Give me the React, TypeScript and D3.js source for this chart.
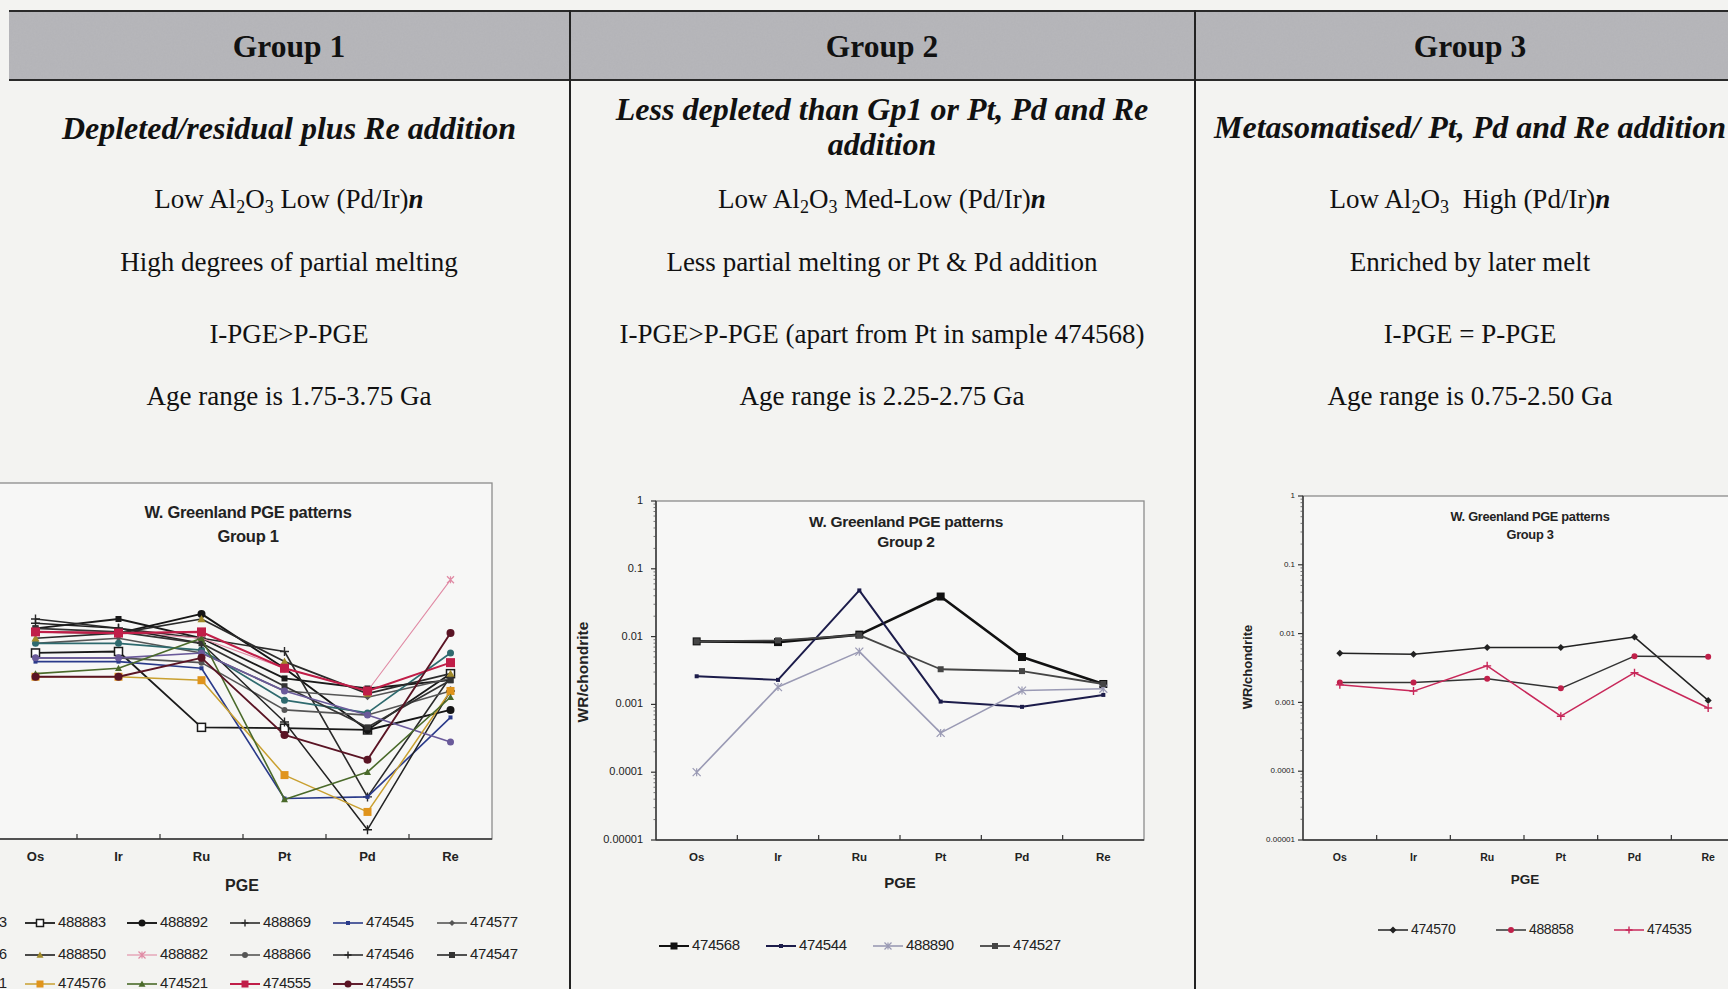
import React from "react";
import * as d3 from "d3";

// ---------- shared axis data ----------
const categories = ["Os", "Ir", "Ru", "Pt", "Pd", "Re"];
const yTickValues = [1, 0.1, 0.01, 0.001, 0.0001, 0.00001];
const yTickLabels = ["1", "0.1", "0.01", "0.001", "0.0001", "0.00001"];

// ---------- Group 1 series (WR/chondrite, order Os Ir Ru Pt Pd Re) ----------
const g1_cut3 = [0.0091, 0.0123, 0.0066, 0.0018, 0.0013, 0.0017];
const g1_488883 = [0.0041, 0.0043, 0.00037, 0.00036, 0.00034, 0.0021];
const g1_488892 = [0.0081, 0.0078, 0.0145, 0.0025, 0.00034, 0.00065];
const g1_488869 = [0.0123, 0.0091, 0.0066, 0.0043, 0.000039, 0.0019];
const g1_474545 = [0.0031, 0.0031, 0.0025, 0.000037, 0.000039, 0.00051];
const g1_474577 = [0.0056, 0.0066, 0.0041, 0.0012, 0.00098, 0.0018];
const g1_cut6 = [0.0056, 0.0056, 0.0045, 0.00089, 0.00059, 0.0041];
const g1_488850 = [0.0066, 0.0078, 0.0123, 0.0031, 0.0011, 0.0021];
const g1_488882 = [0.0081, 0.0081, 0.0066, 0.0025, 0.0012, 0.0437];
const g1_488866 = [0.0035, 0.0035, 0.003, 0.00065, 0.00055, 0.0012];
const g1_474546 = [0.0107, 0.0091, 0.0056, 0.00044, 0.0000135, 0.0012];
const g1_474547 = [0.0091, 0.0081, 0.0056, 0.0014, 0.00037, 0.0017];
const g1_cut1 = [0.0035, 0.0035, 0.0041, 0.0012, 0.00055, 0.00023];
const g1_474576 = [0.0019, 0.0019, 0.0017, 0.000079, 0.000024, 0.0012];
const g1_474521 = [0.0021, 0.0025, 0.0066, 0.000036, 0.000087, 0.00098];
const g1_474555 = [0.0081, 0.0078, 0.0081, 0.0025, 0.0012, 0.003];
const g1_474557 = [0.0019, 0.0019, 0.0035, 0.00029, 0.00013, 0.0078];

// ---------- Group 2 series ----------
const g2_474568 = [0.0085, 0.0083, 0.0107, 0.039, 0.005, 0.002];
const g2_474544 = [0.0026, 0.0023, 0.048, 0.0011, 0.00092, 0.00138];
const g2_488890 = [0.0001, 0.0018, 0.006, 0.00038, 0.0016, 0.0017];
const g2_474527 = [0.0085, 0.0088, 0.0105, 0.0033, 0.0031, 0.002];

// ---------- Group 3 series ----------
const g3_474570 = [0.0052, 0.005, 0.0063, 0.0063, 0.0089, 0.00107];
const g3_488858 = [0.00195, 0.00195, 0.0022, 0.0016, 0.0047, 0.0046];
const g3_474535 = [0.0018, 0.00146, 0.0034, 0.00063, 0.0027, 0.00083];

type Series = {
  name: string;
  values: number[];
  color: string;
  markerColor?: string;
  marker: string;
  width: number;
  size: number;
};

const group1: Series[] = [
  { name: "3", values: g1_cut3, color: "#1a1a1a", marker: "square", width: 1.8, size: 6 },
  { name: "488883", values: g1_488883, color: "#1a1a1a", marker: "squareOpen", width: 1.8, size: 8 },
  { name: "488892", values: g1_488892, color: "#151515", marker: "circle", width: 1.9, size: 8 },
  { name: "488869", values: g1_488869, color: "#2a2a2a", marker: "plus", width: 1.6, size: 9 },
  { name: "474545", values: g1_474545, color: "#2a3a8a", marker: "square", width: 1.6, size: 4 },
  { name: "474577", values: g1_474577, color: "#555", marker: "diamond", width: 1.6, size: 6 },
  { name: "6", values: g1_cut6, color: "#2e6a6e", marker: "circle", width: 1.7, size: 7 },
  { name: "488850", values: g1_488850, color: "#2a2a2a", markerColor: "#a08a2a", marker: "triangle", width: 1.7, size: 8 },
  { name: "488882", values: g1_488882, color: "#e08aa4", marker: "star", width: 1.1, size: 7 },
  { name: "488866", values: g1_488866, color: "#555", marker: "circle", width: 1.6, size: 6 },
  { name: "474546", values: g1_474546, color: "#222", marker: "plus", width: 1.5, size: 9 },
  { name: "474547", values: g1_474547, color: "#333", marker: "square", width: 1.7, size: 6 },
  { name: "1", values: g1_cut1, color: "#6a5a9a", marker: "circle", width: 1.6, size: 7 },
  { name: "474576", values: g1_474576, color: "#c9a030", markerColor: "#e0941c", marker: "square", width: 1.5, size: 8 },
  { name: "474521", values: g1_474521, color: "#4a6a2a", marker: "triangle", width: 1.6, size: 7 },
  { name: "474555", values: g1_474555, color: "#c01e48", marker: "square", width: 2.1, size: 9 },
  { name: "474557", values: g1_474557, color: "#5a1424", marker: "circle", width: 1.9, size: 8 },
];

const group2: Series[] = [
  { name: "474568", values: g2_474568, color: "#111", marker: "square", width: 2.6, size: 8 },
  { name: "474544", values: g2_474544, color: "#1c1c4a", marker: "square", width: 2, size: 4 },
  { name: "488890", values: g2_488890, color: "#9a9ab4", marker: "star", width: 1.6, size: 8 },
  { name: "474527", values: g2_474527, color: "#454545", marker: "square", width: 1.8, size: 6 },
];

const group3: Series[] = [
  { name: "474570", values: g3_474570, color: "#222", marker: "diamond", width: 1.5, size: 7 },
  { name: "488858", values: g3_488858, color: "#333", markerColor: "#c0204a", marker: "circle", width: 1.5, size: 6 },
  { name: "474535", values: g3_474535, color: "#c8285a", marker: "plus", width: 1.5, size: 8 },
];

const SANS = "Arial, 'Liberation Sans', sans-serif";
const SERIF = "'Liberation Serif', 'Times New Roman', serif";

function Marker({ type, x, y, size, color }: { type: string; x: number; y: number; size: number; color: string }) {
  const h = size / 2;
  switch (type) {
    case "square":
      return <rect x={x - h} y={y - h} width={size} height={size} fill={color} />;
    case "squareOpen":
      return <rect x={x - h} y={y - h} width={size} height={size} fill="#fff" stroke={color} strokeWidth={1.5} />;
    case "circle":
      return <circle cx={x} cy={y} r={h} fill={color} />;
    case "diamond":
      return <polygon points={`${x},${y - h} ${x + h},${y} ${x},${y + h} ${x - h},${y}`} fill={color} />;
    case "triangle":
      return <polygon points={`${x},${y - h} ${x + h},${y + h * 0.8} ${x - h},${y + h * 0.8}`} fill={color} />;
    case "plus":
      return <path d={`M${x - h},${y}H${x + h}M${x},${y - h}V${y + h}`} stroke={color} strokeWidth={1.4} />;
    case "star":
      return (
        <path
          d={`M${x - h},${y - h}L${x + h},${y + h}M${x - h},${y + h}L${x + h},${y - h}M${x},${y - h}V${y + h}`}
          stroke={color}
          strokeWidth={1.2}
        />
      );
    default:
      return null;
  }
}

type ChartCfg = {
  left: number;
  right: number;
  top: number;
  bottom: number;
  series: Series[];
  title: string;
  subtitle: string;
  titleX: number;
  titleY: [number, number];
  titleSize: number;
  catSize: number;
  catY: number;
  pgeX: number;
  pgeY: number;
  pgeSize: number;
  yAxis: boolean;
  tickSize: number;
  yLabelX: number;
  yLabelY: number;
  yLabelSize: number;
};

function Chart({ c }: { c: ChartCfg }) {
  const x = d3.scaleBand<string>().domain(categories).range([c.left, c.right]).padding(0);
  const y = d3.scaleLog().domain([1e-5, 1]).range([c.bottom, c.top]);
  const cx = (i: number) => (x(categories[i]) as number) + x.bandwidth() / 2;
  const line = d3
    .line<number>()
    .x((_, i) => cx(i))
    .y((d) => y(d));
  const minor: number[] = [];
  for (let k = -5; k < 0; k++) for (let m = 2; m < 10; m++) minor.push(m * Math.pow(10, k));
  const bounds = categories.map((cat) => x(cat) as number).slice(1);
  return (
    <g>
      <rect x={c.left} y={c.top} width={c.right - c.left} height={c.bottom - c.top} fill="#f7f7f6" stroke="#8c8c8c" strokeWidth={1.3} />
      <text x={c.titleX} y={c.titleY[0]} textAnchor="middle" fontFamily={SANS} fontWeight="bold" fontSize={c.titleSize} fill="#222" letterSpacing={-0.3}>
        {c.title}
      </text>
      <text x={c.titleX} y={c.titleY[1]} textAnchor="middle" fontFamily={SANS} fontWeight="bold" fontSize={c.titleSize} fill="#222" letterSpacing={-0.3}>
        {c.subtitle}
      </text>
      {/* x axis */}
      <line x1={c.left} x2={c.right} y1={c.bottom} y2={c.bottom} stroke="#333" strokeWidth={1.5} />
      {bounds.map((b, i) => (
        <line key={i} x1={b} x2={b} y1={c.bottom - 5} y2={c.bottom} stroke="#333" strokeWidth={1.2} />
      ))}
      {categories.map((cat, i) => (
        <text key={cat} x={cx(i)} y={c.catY} textAnchor="middle" dominantBaseline="middle" fontFamily={SANS} fontWeight="bold" fontSize={c.catSize} fill="#222">
          {cat}
        </text>
      ))}
      <text x={c.pgeX} y={c.pgeY} textAnchor="middle" dominantBaseline="middle" fontFamily={SANS} fontWeight="bold" fontSize={c.pgeSize} fill="#222">
        PGE
      </text>
      {c.yAxis && (
        <g>
          <line x1={c.left} x2={c.left} y1={c.top} y2={c.bottom} stroke="#333" strokeWidth={1.4} />
          {minor.map((m, i) => (
            <line key={i} x1={c.left - 2.5} x2={c.left} y1={y(m)} y2={y(m)} stroke="#555" strokeWidth={0.8} />
          ))}
          {yTickValues.map((v, i) => (
            <g key={i}>
              <line x1={c.left - 5} x2={c.left} y1={y(v)} y2={y(v)} stroke="#333" strokeWidth={1.2} />
              <text x={c.left - (c.tickSize > 9 ? 13 : 8)} y={y(v)} textAnchor="end" dominantBaseline="middle" fontFamily={SANS} fontSize={c.tickSize} fill="#222">
                {yTickLabels[i]}
              </text>
            </g>
          ))}
          <text
            transform={`translate(${c.yLabelX},${c.yLabelY}) rotate(-90)`}
            textAnchor="middle"
            dominantBaseline="middle"
            fontFamily={SANS}
            fontWeight="bold"
            fontSize={c.yLabelSize}
            fill="#222"
          >
            WR/chondrite
          </text>
        </g>
      )}
      {c.series.map((s) => (
        <g key={s.name}>
          <path d={line(s.values) || ""} fill="none" stroke={s.color} strokeWidth={s.width} strokeLinejoin="round" />
          {s.values.map((v, i) => (
            <Marker key={i} type={s.marker} x={cx(i)} y={y(v)} size={s.size} color={s.markerColor || s.color} />
          ))}
        </g>
      ))}
    </g>
  );
}

function LegendItem({ s, x, y, fs, anchorEnd }: { s: Series; x: number; y: number; fs: number; anchorEnd?: number }) {
  return (
    <g>
      <line x1={x} x2={x + 30} y1={y} y2={y} stroke={s.color} strokeWidth={Math.min(s.width, 2)} />
      <Marker type={s.marker} x={x + 15} y={y} size={Math.min(s.size, 7)} color={s.markerColor || s.color} />
      {anchorEnd !== undefined ? (
        <text x={anchorEnd} y={y} textAnchor="end" dominantBaseline="middle" fontFamily={SANS} fontSize={fs} fill="#222">
          {s.name}
        </text>
      ) : (
        <text x={x + 33} y={y} dominantBaseline="middle" fontFamily={SANS} fontSize={fs} fill="#222" letterSpacing={-0.4}>
          {s.name}
        </text>
      )}
    </g>
  );
}

function AlLine({ cx, y, rest, double }: { cx: number; y: number; rest: string; double?: boolean }) {
  return (
    <text x={cx} y={y} textAnchor="middle" fontFamily={SERIF} fontSize={27} fill="#111">
      Low Al
      <tspan dy={5} fontSize={18}>2</tspan>
      <tspan dy={-5}>O</tspan>
      <tspan dy={5} fontSize={18}>3</tspan>
      <tspan dy={-5} dx={double ? 7 : 0}>{" " + rest + " (Pd/Ir)"}</tspan>
      <tspan fontStyle="italic" fontWeight="bold">n</tspan>
    </text>
  );
}

export default function App() {
  const W = 1728;
  const H = 989;
  const col1 = 289;
  const col2 = 882;
  const col3 = 1470;

  const chart1: ChartCfg = {
    left: -6, right: 492, top: 483, bottom: 839, series: group1,
    title: "W. Greenland PGE patterns", subtitle: "Group 1", titleX: 248, titleY: [518, 542], titleSize: 16.5,
    catSize: 13, catY: 858, pgeX: 242, pgeY: 887, pgeSize: 16,
    yAxis: false, tickSize: 11, yLabelX: 0, yLabelY: 0, yLabelSize: 13,
  };
  const chart2: ChartCfg = {
    left: 656, right: 1144, top: 501, bottom: 840, series: group2,
    title: "W. Greenland PGE patterns", subtitle: "Group 2", titleX: 906, titleY: [527, 547], titleSize: 15.5,
    catSize: 11.5, catY: 858, pgeX: 900, pgeY: 884, pgeSize: 15,
    yAxis: true, tickSize: 11, yLabelX: 584, yLabelY: 672, yLabelSize: 15.5,
  };
  const chart3: ChartCfg = {
    left: 1303, right: 1745, top: 496, bottom: 840, series: group3,
    title: "W. Greenland PGE patterns", subtitle: "Group 3", titleX: 1530, titleY: [521, 539], titleSize: 12.8,
    catSize: 10.5, catY: 858, pgeX: 1525, pgeY: 880, pgeSize: 13.5,
    yAxis: true, tickSize: 8, yLabelX: 1249, yLabelY: 667, yLabelSize: 13,
  };

  const g1ColX = [-78, 25, 127, 230, 333, 437];
  const g1RowY = [923, 955, 984];

  return (
    <svg width={W} height={H} style={{ position: "absolute", left: 0, top: 0, display: "block" }} xmlns="http://www.w3.org/2000/svg">
      <defs>
        <filter id="grain" x="0" y="0" width="100%" height="100%">
          <feTurbulence type="fractalNoise" baseFrequency="0.55" numOctaves={2} seed={4} />
          <feColorMatrix type="matrix" values="0 0 0 0 0.5  0 0 0 0 0.5  0 0 0 0 0.52  1 0 0 0 -0.2" />
        </filter>
      </defs>
      <rect x={0} y={0} width={W} height={H} fill="#f3f3f1" />
      {/* header band */}
      <rect x={9} y={11} width={W - 9} height={69} fill="#b4b4b8" />
      <rect x={9} y={11} width={W - 9} height={69} filter="url(#grain)" opacity={0.55} />
      <line x1={9} x2={W} y1={11} y2={11} stroke="#2a2a2a" strokeWidth={2} />
      <line x1={9} x2={W} y1={80} y2={80} stroke="#2a2a2a" strokeWidth={2} />
      <line x1={570} x2={570} y1={10} y2={H} stroke="#222" strokeWidth={2} />
      <line x1={1195} x2={1195} y1={10} y2={H} stroke="#222" strokeWidth={2} />

      {[
        ["Group 1", col1],
        ["Group 2", col2],
        ["Group 3", col3],
      ].map(([t, x]) => (
        <text key={t as string} x={x as number} y={57} textAnchor="middle" fontFamily={SERIF} fontWeight="bold" fontSize={31.5} fill="#111">
          {t}
        </text>
      ))}

      {/* column 1 texts */}
      <text x={col1} y={139} textAnchor="middle" fontFamily={SERIF} fontWeight="bold" fontStyle="italic" fontSize={32} fill="#111">
        Depleted/residual plus Re addition
      </text>
      <AlLine cx={col1} y={208} rest="Low" />
      <text x={col1} y={271} textAnchor="middle" fontFamily={SERIF} fontSize={27} fill="#111">High degrees of partial melting</text>
      <text x={col1} y={343} textAnchor="middle" fontFamily={SERIF} fontSize={27} fill="#111">I-PGE&gt;P-PGE</text>
      <text x={col1} y={405} textAnchor="middle" fontFamily={SERIF} fontSize={27} fill="#111">Age range is 1.75-3.75 Ga</text>

      {/* column 2 texts */}
      <text x={col2} y={120} textAnchor="middle" fontFamily={SERIF} fontWeight="bold" fontStyle="italic" fontSize={32} fill="#111">
        Less depleted than Gp1 or Pt, Pd and Re
      </text>
      <text x={col2} y={155} textAnchor="middle" fontFamily={SERIF} fontWeight="bold" fontStyle="italic" fontSize={32} fill="#111">
        addition
      </text>
      <AlLine cx={col2} y={208} rest="Med-Low" />
      <text x={col2} y={271} textAnchor="middle" fontFamily={SERIF} fontSize={27} fill="#111">Less partial melting or Pt &amp; Pd addition</text>
      <text x={col2} y={343} textAnchor="middle" fontFamily={SERIF} fontSize={27} fill="#111">I-PGE&gt;P-PGE (apart from Pt in sample 474568)</text>
      <text x={col2} y={405} textAnchor="middle" fontFamily={SERIF} fontSize={27} fill="#111">Age range is 2.25-2.75 Ga</text>

      {/* column 3 texts */}
      <text x={col3} y={138} textAnchor="middle" fontFamily={SERIF} fontWeight="bold" fontStyle="italic" fontSize={32} fill="#111">
        Metasomatised/ Pt, Pd and Re addition
      </text>
      <AlLine cx={col3} y={208} rest="High" double />
      <text x={col3} y={271} textAnchor="middle" fontFamily={SERIF} fontSize={27} fill="#111">Enriched by later melt</text>
      <text x={col3} y={343} textAnchor="middle" fontFamily={SERIF} fontSize={27} fill="#111">I-PGE = P-PGE</text>
      <text x={col3} y={405} textAnchor="middle" fontFamily={SERIF} fontSize={27} fill="#111">Age range is 0.75-2.50 Ga</text>

      <Chart c={chart1} />
      <Chart c={chart2} />
      <Chart c={chart3} />

      {/* legends */}
      {group1.map((s, i) => {
        const row = Math.floor(i / 6);
        const col = i % 6;
        return (
          <LegendItem key={s.name} s={s} x={g1ColX[col]} y={g1RowY[row]} fs={15} anchorEnd={col === 0 ? 7 : undefined} />
        );
      })}
      {group2.map((s, i) => (
        <LegendItem key={s.name} s={s} x={659 + i * 107} y={946} fs={15} />
      ))}
      {group3.map((s, i) => (
        <LegendItem key={s.name} s={s} x={1378 + i * 118} y={930} fs={14} />
      ))}
    </svg>
  );
}
